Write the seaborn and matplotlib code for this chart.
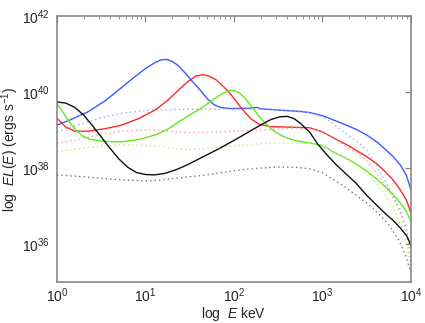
import numpy as np
import pandas as pd
import matplotlib
matplotlib.use("Agg")
import matplotlib.pyplot as plt
import matplotlib.ticker as mticker
import seaborn as sns

# log10(E keV) and log10(EL(E))
blue_x = [0.0, 0.15, 0.35, 0.55, 0.73, 0.85, 1.0, 1.11, 1.18, 1.24, 1.30, 1.37, 1.45, 1.53, 1.62, 1.70, 1.78, 1.86, 1.95, 2.07, 2.2, 2.26, 2.30, 2.55, 2.75, 2.86, 3.0, 3.12, 3.25, 3.38, 3.5, 3.62, 3.72, 3.8, 3.88, 3.95, 4.0]
blue_y = [39.13, 39.27, 39.48, 39.78, 40.12, 40.35, 40.62, 40.78, 40.85, 40.86, 40.81, 40.70, 40.50, 40.28, 40.05, 39.82, 39.66, 39.59, 39.57, 39.57, 39.58, 39.60, 39.56, 39.52, 39.49, 39.46, 39.38, 39.27, 39.15, 39.02, 38.87, 38.68, 38.47, 38.30, 38.08, 37.80, 37.42]
blue_dot_x = [0.0, 0.2, 0.35, 0.55, 0.73, 0.92, 1.11, 1.5, 2.0, 2.4, 2.7, 2.86, 3.0, 3.1, 3.19, 3.3, 3.4, 3.5, 3.6, 3.72, 3.8, 3.88, 3.95, 4.0]
blue_dot_y = [38.96, 39.10, 39.22, 39.35, 39.44, 39.50, 39.53, 39.55, 39.55, 39.55, 39.50, 39.46, 39.35, 39.20, 39.05, 38.85, 38.68, 38.47, 38.10, 37.60, 37.28, 36.90, 36.40, 35.84]

red_x = [0.0, 0.1, 0.2, 0.35, 0.55, 0.73, 0.92, 1.11, 1.25, 1.38, 1.48, 1.57, 1.65, 1.72, 1.80, 1.88, 1.96, 2.05, 2.13, 2.2, 2.29, 2.41, 2.6, 2.86, 3.0, 3.12, 3.3, 3.5, 3.62, 3.72, 3.8, 3.88, 3.95, 4.0]
red_y = [39.31, 39.08, 38.97, 38.97, 39.04, 39.13, 39.30, 39.53, 39.78, 40.07, 40.28, 40.42, 40.46, 40.42, 40.32, 40.15, 39.95, 39.68, 39.45, 39.28, 39.15, 39.09, 39.08, 39.06, 38.95, 38.80, 38.58, 38.30, 38.10, 37.88, 37.68, 37.42, 37.15, 36.81]
red_dot_x = [0.0, 0.2, 0.35, 0.55, 0.73, 0.92, 1.11, 1.3, 1.45, 1.8, 2.3, 2.7, 2.9, 3.0, 3.12, 3.3, 3.4, 3.5, 3.6, 3.72, 3.8, 3.88, 3.95, 4.0]
red_dot_y = [38.65, 38.73, 38.81, 38.90, 38.97, 39.00, 39.00, 38.96, 38.93, 38.95, 39.00, 39.05, 39.02, 38.95, 38.78, 38.52, 38.38, 38.20, 37.90, 37.51, 37.20, 36.82, 36.25, 35.63]

green_x = [0.0, 0.06, 0.12, 0.2, 0.28, 0.37, 0.54, 0.73, 0.92, 1.11, 1.25, 1.38, 1.5, 1.62, 1.74, 1.84, 1.92, 1.98, 2.05, 2.12, 2.20, 2.29, 2.38, 2.46, 2.55, 2.65, 2.75, 2.86, 2.98, 3.06, 3.12, 3.2, 3.3, 3.4, 3.5, 3.62, 3.72, 3.8, 3.88, 3.95, 4.0]
green_y = [39.70, 39.50, 39.28, 39.03, 38.86, 38.76, 38.70, 38.69, 38.75, 38.87, 39.02, 39.22, 39.40, 39.56, 39.76, 39.92, 40.02, 40.05, 40.00, 39.85, 39.62, 39.34, 39.12, 38.96, 38.84, 38.75, 38.70, 38.66, 38.60, 38.52, 38.42, 38.34, 38.22, 38.08, 37.92, 37.70, 37.48, 37.30, 37.08, 36.85, 36.59]
green_dot_x = [0.0, 0.2, 0.35, 0.55, 0.73, 0.92, 1.11, 1.3, 1.45, 1.65, 1.84, 2.1, 2.3, 2.6, 2.86, 3.0, 3.07, 3.2, 3.3, 3.4, 3.5, 3.62, 3.72, 3.8, 3.88, 3.95, 4.0]
green_dot_y = [38.43, 38.49, 38.54, 38.59, 38.62, 38.61, 38.58, 38.52, 38.49, 38.51, 38.56, 38.61, 38.64, 38.66, 38.65, 38.57, 38.49, 38.33, 38.21, 38.05, 37.85, 37.55, 37.25, 36.95, 36.55, 36.00, 35.37]

black_x = [0.0, 0.1, 0.2, 0.3, 0.4, 0.5, 0.6, 0.7, 0.8, 0.9, 1.0, 1.1, 1.22, 1.35, 1.45, 1.62, 1.84, 2.07, 2.29, 2.42, 2.52, 2.6, 2.68, 2.76, 2.86, 2.95, 3.05, 3.15, 3.25, 3.38, 3.5, 3.6, 3.72, 3.8, 3.88, 3.95, 4.0]
black_y = [39.74, 39.71, 39.60, 39.40, 39.12, 38.82, 38.52, 38.24, 38.02, 37.88, 37.83, 37.82, 37.86, 37.96, 38.06, 38.26, 38.52, 38.82, 39.12, 39.28, 39.35, 39.36, 39.30, 39.16, 38.93, 38.62, 38.35, 38.10, 37.88, 37.60, 37.28, 37.05, 36.78, 36.62, 36.42, 36.22, 35.97]
black_dot_x = [0.0, 0.25, 0.5, 0.75, 1.0, 1.15, 1.3, 1.45, 1.62, 1.75, 2.0, 2.25, 2.5, 2.7, 2.86, 3.0, 3.12, 3.25, 3.4, 3.5, 3.63, 3.75, 3.86, 3.94, 4.0]
black_dot_y = [37.82, 37.78, 37.73, 37.69, 37.66, 37.68, 37.72, 37.76, 37.80, 37.84, 37.93, 37.99, 38.03, 38.02, 37.98, 37.88, 37.70, 37.51, 37.25, 37.08, 36.81, 36.50, 36.11, 35.70, 35.25]

x_ticks = [1, 10, 100, 1000, 10000]
y_ticks = [1e36, 1e38, 1e40, 1e42]

series = [
    (blue_x, blue_y, "#3a5cff", "-"),
    (blue_dot_x, blue_dot_y, "#9aaaff", "dot"),
    (red_x, red_y, "#ff2a2a", "-"),
    (red_dot_x, red_dot_y, "#ff9a9a", "dot"),
    (green_x, green_y, "#66e81e", "-"),
    (green_dot_x, green_dot_y, "#b8f28a", "dot"),
    (black_x, black_y, "#111111", "-"),
    (black_dot_x, black_dot_y, "#777777", "dot"),
]

sns.set_style("white")
plt.rcParams['font.family'] = ['Liberation Sans', 'DejaVu Sans']
plt.rcParams['mathtext.fontset'] = 'custom'
plt.rcParams['mathtext.rm'] = 'Liberation Sans'
plt.rcParams['mathtext.it'] = 'Liberation Sans:italic'

fig = plt.figure(figsize=(4.25, 3.23), dpi=100)
ax = fig.add_axes([0.134, 0.127, 0.833, 0.823])

for xs, ys, col, ls in series:
    df = pd.DataFrame({"E": 10.0 ** np.array(xs), "L": 10.0 ** np.array(ys)})
    if ls == "dot":
        sns.lineplot(data=df, x="E", y="L", ax=ax, color=col, lw=1.0,
                     linestyle=(0, (1, 2.2)), sort=False, estimator=None)
    else:
        sns.lineplot(data=df, x="E", y="L", ax=ax, color=col, lw=1.0,
                     sort=False, estimator=None)

ax.set_xscale("log")
ax.set_yscale("log")
ax.set_xlim(1, 1e4)
ax.set_ylim(1e35, 1e42)
ax.set_xticks(x_ticks)
ax.set_yticks(y_ticks)
ax.yaxis.set_minor_locator(mticker.NullLocator())
ax.xaxis.set_minor_locator(mticker.LogLocator(base=10, subs=np.arange(2, 10)))
ax.xaxis.set_minor_formatter(mticker.NullFormatter())

for sp in ax.spines.values():
    sp.set_color("#808080")
    sp.set_linewidth(1.1)
ax.tick_params(which="both", direction="in", top=True, right=True,
               color="#808080", labelsize=10)
ax.tick_params(axis="x", pad=3)
ax.tick_params(axis="y", pad=5)
ax.tick_params(which="major", length=4, width=0.8)
ax.tick_params(which="minor", length=2, width=0.6)

ax.set_xlabel(r"log  $\mathit{E}$ keV", fontsize=10, labelpad=0)
ax.set_ylabel(r"log  $\mathit{EL(E)}$ (ergs s$^{-1}$)", fontsize=10, labelpad=1)

fig.savefig("out.png", dpi=100)
